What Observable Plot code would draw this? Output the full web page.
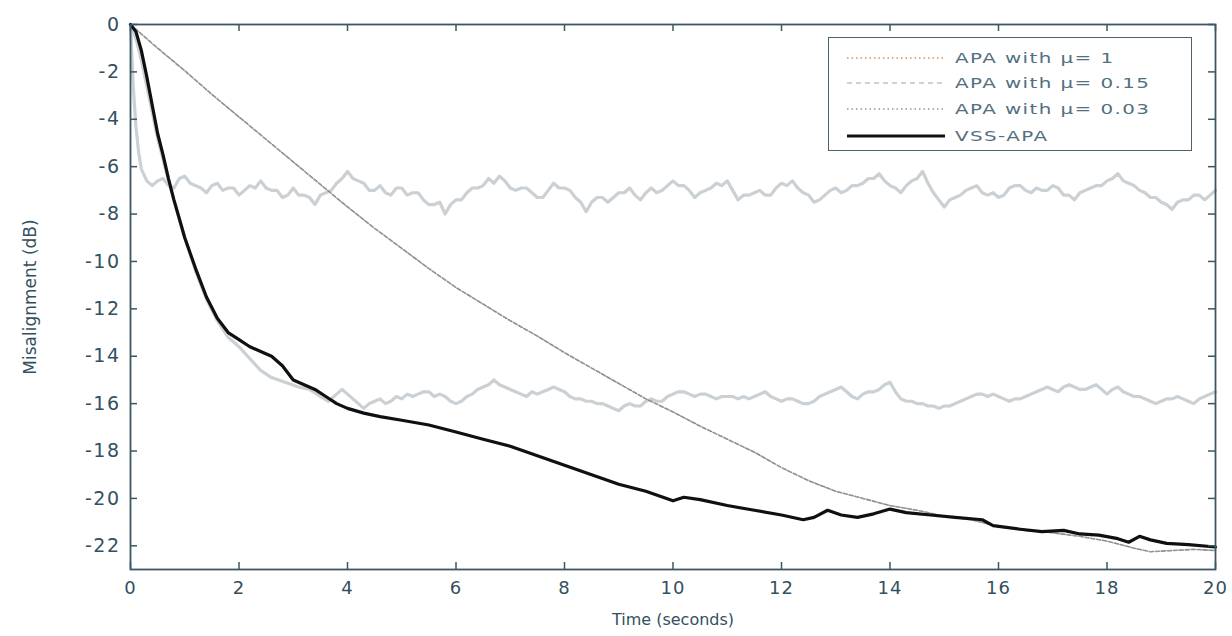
<!DOCTYPE html>
<html><head><meta charset="utf-8">
<script src="https://cdn.jsdelivr.net/npm/d3@7"></script>
<script src="https://cdn.jsdelivr.net/npm/@observablehq/plot@0.6"></script>
<style>
body{margin:0;background:#fff;}
#wrap{position:relative;width:1232px;height:636px;font-family:"DejaVu Sans",sans-serif;}
#legend{position:absolute;left:828px;top:37px;width:364px;height:114px;border:1.8px solid #4d626e;background:#fff;box-sizing:border-box;}
.row{position:absolute;left:0;height:24px;display:flex;align-items:center;white-space:nowrap;}
.row svg{margin-left:18px;}
.row span{display:inline-block;margin-left:10px;font-size:14px;letter-spacing:1px;color:#52707f;transform:scaleX(1.42);transform-origin:left center;}
</style>
</head><body><div id="wrap"></div>
<script>
// ---- data ----
const xTicks = [0,2,4,6,8,10,12,14,16,18,20];
const yTicks = [0,-2,-4,-6,-8,-10,-12,-14,-16,-18,-20,-22];

// APA with mu = 1: initial drop (irregular times) then a 0.1 s grid from 1.0 to 20.0
const mu1EarlyT = [0,0.05,0.1,0.15,0.2,0.3,0.4,0.5,0.6,0.7,0.8,0.9];
const mu1EarlyV = [0,-2.6,-4.3,-5.4,-6.1,-6.6,-6.8,-6.6,-6.5,-6.8,-6.9,-6.5];
const mu1GridStart = 1.0, gridStep = 0.1;
const mu1V = [
  -6.4,-6.7,-6.8,-6.9,-7.1,-6.8,-6.7,-7.0,-6.9,-6.9,
  -7.2,-7.0,-6.8,-6.9,-6.6,-6.9,-7.0,-7.0,-7.3,-7.2,
  -6.9,-7.2,-7.2,-7.3,-7.6,-7.2,-7.1,-7.0,-6.7,-6.5,
  -6.2,-6.5,-6.6,-6.7,-7.0,-7.0,-6.8,-7.1,-7.2,-6.9,
  -6.9,-7.2,-7.1,-7.1,-7.4,-7.6,-7.6,-7.5,-8.0,-7.6,
  -7.4,-7.4,-7.1,-6.9,-6.9,-6.8,-6.5,-6.7,-6.4,-6.6,
  -6.9,-7.0,-6.9,-6.9,-7.1,-7.3,-7.3,-7.0,-6.7,-6.9,
  -6.9,-7.0,-7.3,-7.5,-7.9,-7.5,-7.3,-7.3,-7.5,-7.3,
  -7.1,-7.1,-6.9,-7.2,-7.4,-7.1,-6.9,-7.1,-7.0,-6.8,
  -6.6,-6.8,-6.8,-7.0,-7.3,-7.1,-7.0,-6.9,-6.7,-6.8,
  -6.6,-7.0,-7.4,-7.2,-7.2,-7.1,-7.0,-7.2,-7.2,-6.9,
  -6.7,-6.8,-6.6,-6.9,-7.1,-7.2,-7.5,-7.4,-7.2,-7.0,
  -6.9,-7.1,-7.0,-6.8,-6.8,-6.7,-6.5,-6.5,-6.3,-6.6,
  -6.8,-6.9,-7.1,-6.8,-6.6,-6.5,-6.2,-6.7,-7.1,-7.4,
  -7.7,-7.4,-7.3,-7.2,-7.0,-6.9,-6.8,-7.1,-7.2,-7.1,
  -7.3,-7.2,-6.9,-6.8,-6.8,-7.0,-7.1,-6.9,-7.0,-7.0,
  -6.8,-6.9,-7.2,-7.2,-7.4,-7.1,-7.0,-6.9,-6.8,-6.8,
  -6.6,-6.5,-6.3,-6.6,-6.7,-6.8,-7.0,-7.1,-7.3,-7.3,
  -7.5,-7.6,-7.8,-7.5,-7.4,-7.4,-7.2,-7.2,-7.4,-7.2,
  -7.0
];

// APA with mu = 0.15: descent (irregular times) then a 0.1 s grid from 4.0 to 20.0
const mu015EarlyT = [0,0.1,0.2,0.3,0.4,0.5,0.6,0.7,0.8,0.9,1.0,1.2,1.4,1.6,1.8,2.0,2.2,2.4,2.6,2.85,3.1,3.3,3.5,3.65,3.8,3.9];
const mu015EarlyV = [0,-0.6,-1.5,-2.6,-3.7,-4.8,-5.7,-6.6,-7.4,-8.2,-9.0,-10.4,-11.6,-12.5,-13.2,-13.6,-14.1,-14.6,-14.9,-15.1,-15.3,-15.4,-15.7,-15.9,-15.6,-15.4];
const mu015GridStart = 4.0;
const mu015V = [
  -15.6,-15.8,-16.0,-16.2,-16.0,-15.9,-15.8,-16.0,-15.9,-15.7,
  -15.8,-15.6,-15.7,-15.6,-15.5,-15.5,-15.7,-15.6,-15.7,-15.9,
  -16.0,-15.9,-15.7,-15.6,-15.4,-15.3,-15.2,-15.0,-15.2,-15.3,
  -15.4,-15.5,-15.6,-15.7,-15.5,-15.6,-15.5,-15.4,-15.3,-15.4,
  -15.5,-15.7,-15.8,-15.8,-15.9,-15.9,-16.0,-16.0,-16.1,-16.2,
  -16.3,-16.1,-16.0,-16.1,-16.1,-15.9,-15.8,-15.9,-15.9,-15.7,
  -15.6,-15.5,-15.5,-15.6,-15.7,-15.6,-15.6,-15.7,-15.8,-15.7,
  -15.7,-15.7,-15.8,-15.7,-15.8,-15.7,-15.6,-15.5,-15.7,-15.8,
  -15.9,-15.8,-15.8,-15.9,-16.0,-16.0,-15.9,-15.7,-15.6,-15.5,
  -15.4,-15.3,-15.5,-15.7,-15.8,-15.6,-15.5,-15.5,-15.4,-15.2,
  -15.1,-15.5,-15.8,-15.9,-15.9,-16.0,-16.0,-16.1,-16.1,-16.2,
  -16.1,-16.1,-16.0,-15.9,-15.8,-15.7,-15.6,-15.6,-15.7,-15.6,
  -15.7,-15.8,-15.9,-15.8,-15.8,-15.7,-15.6,-15.5,-15.4,-15.3,
  -15.4,-15.5,-15.3,-15.2,-15.3,-15.4,-15.4,-15.3,-15.2,-15.4,
  -15.6,-15.4,-15.3,-15.5,-15.6,-15.7,-15.7,-15.8,-15.9,-16.0,
  -15.9,-15.8,-15.8,-15.7,-15.8,-15.9,-16.0,-15.8,-15.7,-15.6,
  -15.5
];

// APA with mu = 0.03 (slow)
const mu003T = [0,0.5,1.0,1.5,2.0,2.5,3.0,3.5,4.0,4.5,5.0,5.5,6.0,6.5,7.0,7.5,8.0,8.5,9.0,9.5,10.0,10.5,11.0,11.5,12.0,12.5,13.0,13.5,14.0,14.5,15.0,15.5,16.0,16.5,17.0,17.5,18.0,18.5,18.8,19.2,19.6,20.0];
const mu003V = [0,-1.0,-1.95,-2.95,-3.9,-4.85,-5.8,-6.75,-7.7,-8.6,-9.45,-10.3,-11.1,-11.8,-12.5,-13.15,-13.85,-14.5,-15.15,-15.8,-16.35,-16.95,-17.5,-18.05,-18.7,-19.25,-19.7,-20.0,-20.3,-20.5,-20.75,-20.9,-21.2,-21.35,-21.45,-21.6,-21.8,-22.1,-22.25,-22.2,-22.15,-22.2];

// VSS-APA
const vssT = [0,0.1,0.2,0.3,0.4,0.5,0.6,0.7,0.8,0.9,1.0,1.2,1.4,1.6,1.8,2.0,2.2,2.4,2.6,2.8,3.0,3.2,3.4,3.6,3.8,4.0,4.3,4.6,5.0,5.5,6.0,6.5,7.0,7.5,8.0,8.5,9.0,9.5,10.0,10.2,10.5,11.0,11.5,12.0,12.4,12.6,12.85,13.1,13.4,13.7,14.0,14.3,14.75,15.2,15.7,15.9,16.4,16.8,17.2,17.5,17.85,18.2,18.4,18.6,18.8,19.1,19.5,20.0];
const vssV = [0,-0.3,-1.1,-2.2,-3.4,-4.6,-5.5,-6.5,-7.4,-8.2,-9.0,-10.3,-11.5,-12.4,-13.0,-13.3,-13.6,-13.8,-14.0,-14.4,-15.0,-15.2,-15.4,-15.7,-16.0,-16.2,-16.4,-16.55,-16.7,-16.9,-17.2,-17.5,-17.8,-18.2,-18.6,-19.0,-19.4,-19.7,-20.1,-19.95,-20.05,-20.3,-20.5,-20.7,-20.9,-20.8,-20.5,-20.7,-20.8,-20.65,-20.45,-20.6,-20.7,-20.8,-20.9,-21.15,-21.3,-21.4,-21.35,-21.5,-21.55,-21.7,-21.85,-21.6,-21.75,-21.9,-21.95,-22.05];

const seriesNames = ["APA with \u03bc= 1","APA with \u03bc= 0.15","APA with \u03bc= 0.03","VSS-APA"];
const xLabel = "Time (seconds)";
const yLabel = "Misalignment (dB)";

// ---- build tables ----
const zip = (ts, vs) => ts.map((t, i) => ({t, v: vs[i]}));
const gridded = (start, vs) => vs.map((v, i) => ({t: +(start + i * gridStep).toFixed(2), v}));
const dataMu1 = zip(mu1EarlyT, mu1EarlyV).concat(gridded(mu1GridStart, mu1V));
const dataMu015 = zip(mu015EarlyT, mu015EarlyV).concat(gridded(mu015GridStart, mu015V));
const dataMu003 = zip(mu003T, mu003V);
const dataVss = zip(vssT, vssV);

const axisColor = "#3b5766";
const textColor = "#34505f";
const W = 1232, H = 636, mL = 130, mR = 17, mT = 24, mB = 67;
const innerW = W - mL - mR, innerH = H - mT - mB, tick = 7;

const chart = Plot.plot({
  width: W, height: H,
  marginLeft: mL, marginRight: mR, marginTop: mT, marginBottom: mB,
  x: {domain: [0, 20]},
  y: {domain: [-23, 0]},
  style: {fontFamily: "'DejaVu Sans', sans-serif", background: "white"},
  marks: [
    Plot.line(dataMu1, {x: "t", y: "v", stroke: "#cad0d4", strokeWidth: 3.2}),
    Plot.line(dataMu015, {x: "t", y: "v", stroke: "#cad0d4", strokeWidth: 3.2}),
    Plot.line(dataMu003, {x: "t", y: "v", stroke: "#7c919c", strokeWidth: 1.6, strokeDasharray: "4,2"}),
    Plot.line(dataMu003, {x: "t", y: "v", stroke: "#de8e60", strokeWidth: 1.2, strokeDasharray: "1.5,5", strokeOpacity: 0.8}),
    Plot.line(dataVss, {x: "t", y: "v", stroke: "#101010", strokeWidth: 3.2}),
    Plot.frame({stroke: axisColor, strokeWidth: 1.8}),
    // inward ticks on all four sides
    Plot.tickX(xTicks, {x: d => d, stroke: axisColor, strokeWidth: 1.5, insetTop: innerH - tick}),
    Plot.tickX(xTicks, {x: d => d, stroke: axisColor, strokeWidth: 1.5, insetBottom: innerH - tick}),
    Plot.tickY(yTicks, {y: d => d, stroke: axisColor, strokeWidth: 1.5, insetRight: innerW - tick}),
    Plot.tickY(yTicks, {y: d => d, stroke: axisColor, strokeWidth: 1.5, insetLeft: innerW - tick}),
    Plot.axisX({anchor: "bottom", ticks: xTicks, tickSize: 0, tickPadding: 12, fontSize: 18, color: textColor, tickFormat: d => String(d), label: null}),
    Plot.axisY({anchor: "left", ticks: yTicks, tickSize: 0, tickPadding: 10, fontSize: 19, color: textColor, tickFormat: d => String(d), label: null}),
    Plot.text([xLabel], {frameAnchor: "bottom", dy: 55, fontSize: 16, fill: textColor}),
    Plot.text([yLabel], {frameAnchor: "left", textAnchor: "middle", dx: -100, rotate: -90, fontSize: 17, fill: textColor})
  ]
});
// widen tick-label lettering like the stretched original
d3.select(chart).selectAll("g[aria-label='y-axis tick label'] text").attr("letter-spacing", "1.5px");
d3.select(chart).selectAll("g[aria-label='x-axis tick label'] text").attr("letter-spacing", "1px");
const wrap = document.getElementById("wrap");
wrap.appendChild(chart);

// legend
const legend = document.createElement("div");
legend.id = "legend";
const styles = [
  {stroke: "#de8e60", w: 1.3, dash: "1.5,3"},
  {stroke: "#b9c3c8", w: 1.3, dash: "5,4"},
  {stroke: "#8a98a0", w: 1.3, dash: "1.5,3"},
  {stroke: "#101010", w: 3, dash: null}
];
const rowTops = [8, 33, 59, 86];
seriesNames.forEach((name, i) => {
  const row = document.createElement("div");
  row.className = "row";
  row.style.top = rowTops[i] + "px";
  const s = styles[i];
  row.innerHTML = `<svg width="98" height="10"><line x1="0" x2="98" y1="5" y2="5" stroke="${s.stroke}" stroke-width="${s.w}" ${s.dash ? `stroke-dasharray="${s.dash}"` : ""}/></svg><span>${name}</span>`;
  legend.appendChild(row);
});
wrap.appendChild(legend);
</script>
</body></html>
